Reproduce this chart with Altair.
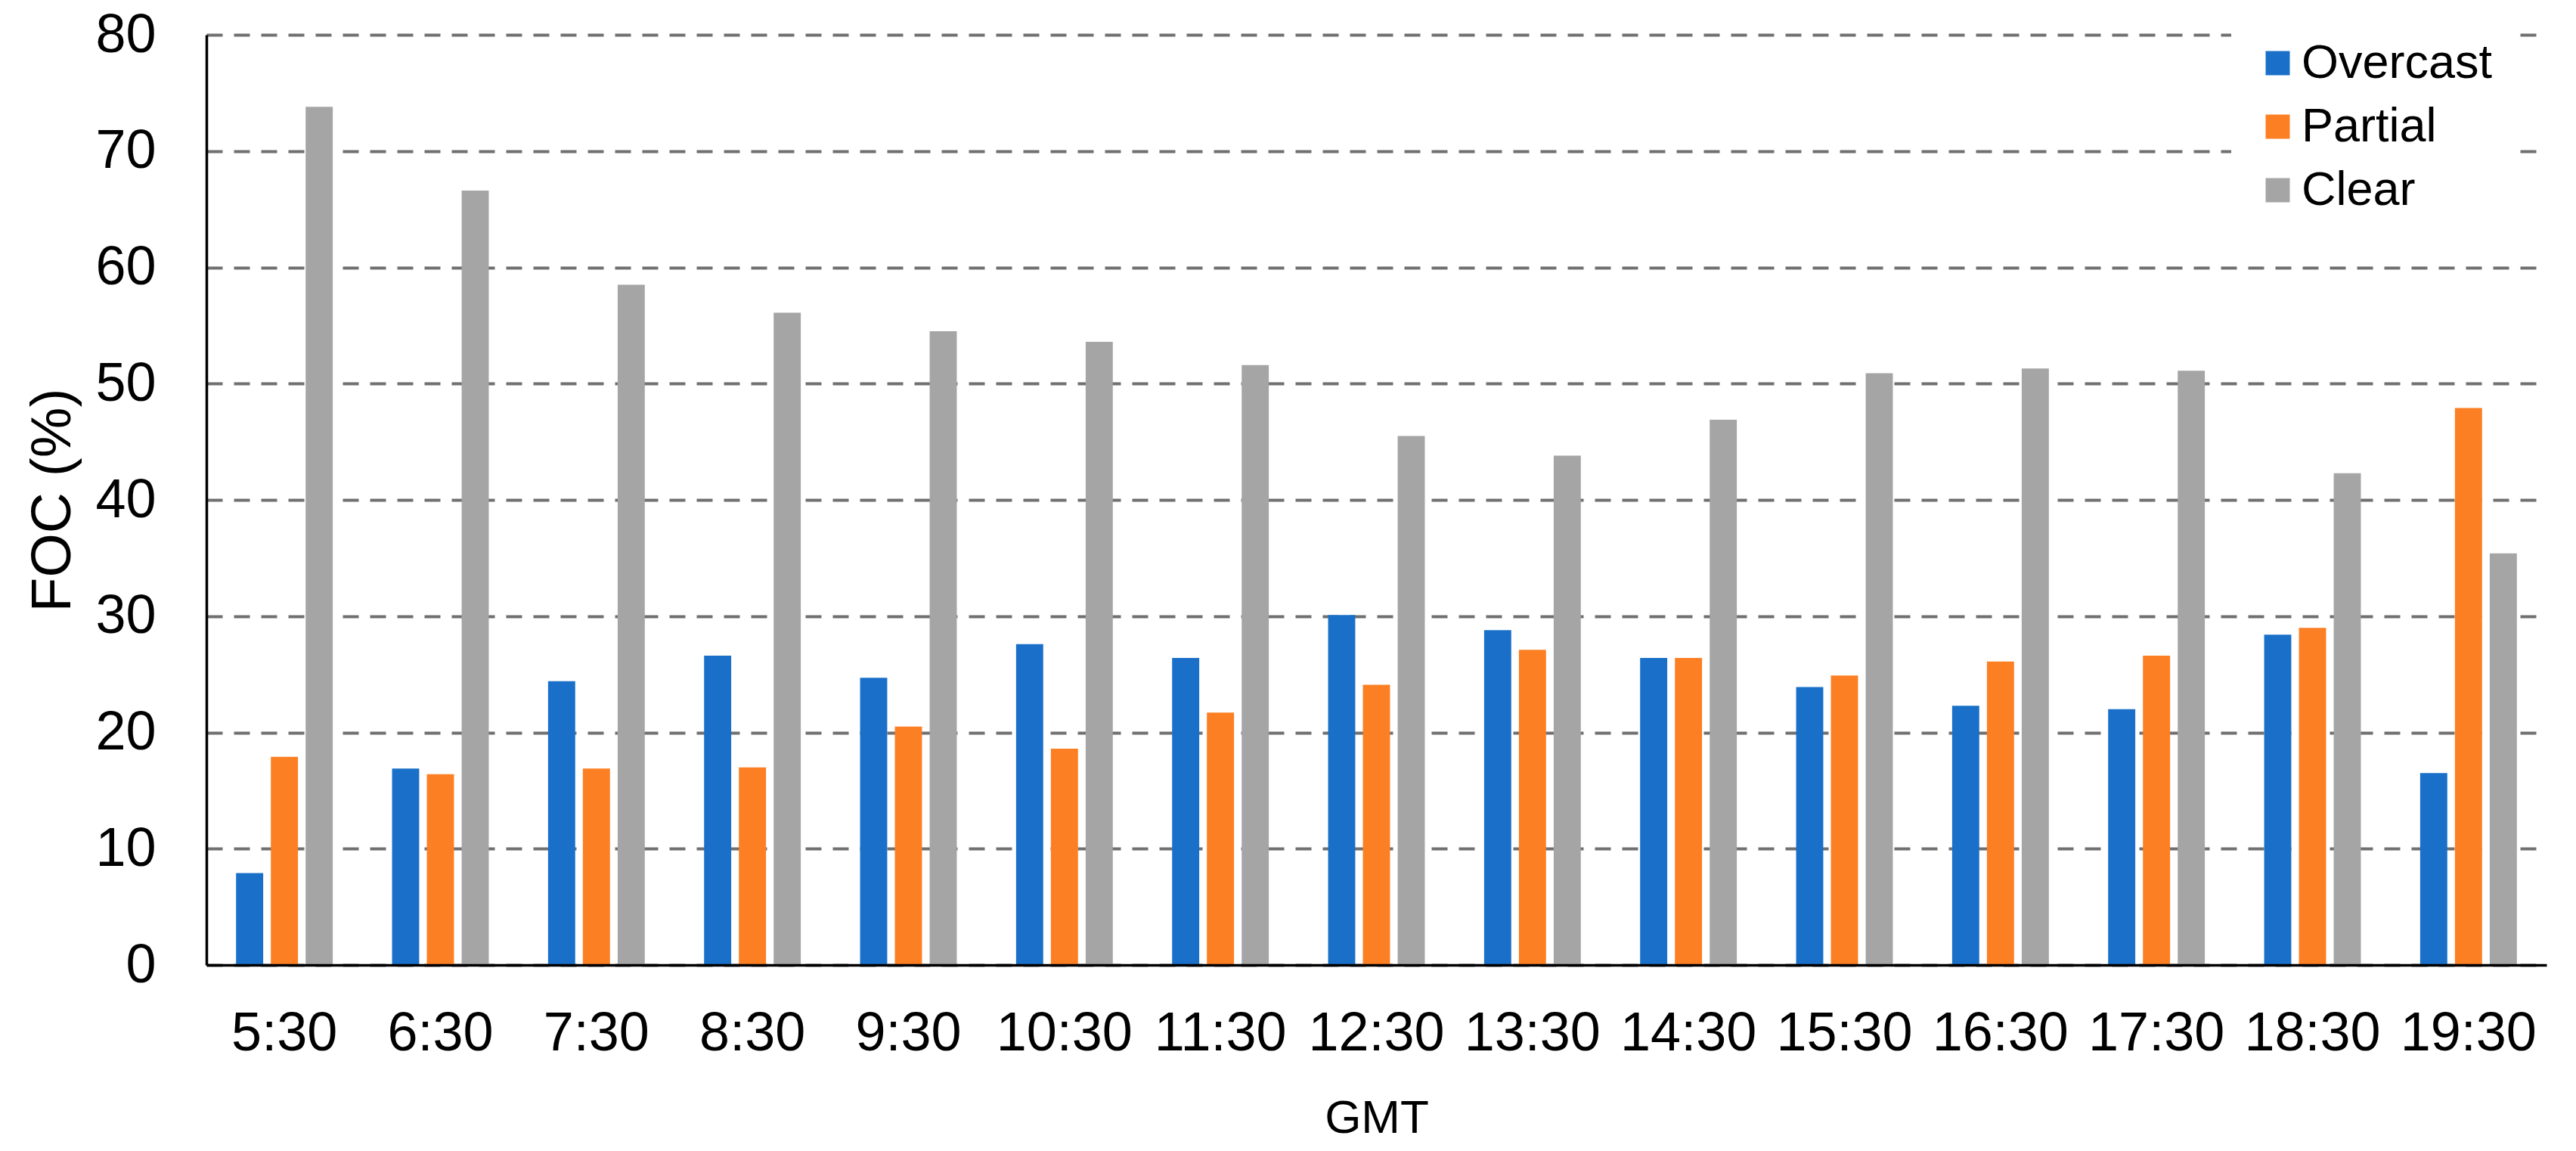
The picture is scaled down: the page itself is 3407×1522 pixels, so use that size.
import altair as alt
import pandas as pd

times = ["5:30", "6:30", "7:30", "8:30", "9:30", "10:30", "11:30", "12:30",
         "13:30", "14:30", "15:30", "16:30", "17:30", "18:30", "19:30"]
series = ["Overcast", "Partial", "Clear"]
colors = ["#1a70c8", "#fd7f23", "#a5a5a5"]

overcast = [7.9, 16.9, 24.4, 26.6, 24.7, 27.6, 26.4, 30.1, 28.8, 26.4, 23.9, 22.3, 22.0, 28.4, 16.5]
partial = [17.9, 16.4, 16.9, 17.0, 20.5, 18.6, 21.7, 24.1, 27.1, 26.4, 24.9, 26.1, 26.6, 29.0, 47.9]
clear = [73.8, 66.6, 58.5, 56.1, 54.5, 53.6, 51.6, 45.5, 43.8, 46.9, 50.9, 51.3, 51.1, 42.3, 35.4]

y_ticks = [0, 10, 20, 30, 40, 50, 60, 70, 80]

rows = []
for i, t in enumerate(times):
    for s, vals in zip(series, [overcast, partial, clear]):
        rows.append({"GMT": t, "Type": s, "FOC": vals[i]})
df = pd.DataFrame(rows)

FONT = "Liberation Sans"

chart = alt.Chart(df).mark_bar().encode(
    x=alt.X(
        "GMT:N", sort=times,
        scale=alt.Scale(paddingInner=0.38, paddingOuter=0.19),
        axis=alt.Axis(
            title="GMT", labelAngle=0, labelFont=FONT, labelFontSize=72,
            labelColor="black", labelPadding=55, labelLimit=400, labelOverlap=False,
            ticks=False, tickSize=0,
            domain=True, domainColor="black", domainWidth=3.5,
            titleFont=FONT, titleFontSize=62, titleFontWeight="normal",
            titleColor="black", titleY=221, titleBaseline="alphabetic",
            grid=False, zindex=1,
        ),
    ),
    xOffset=alt.XOffset(
        "Type:N", sort=series,
        scale=alt.Scale(paddingInner=0.22, paddingOuter=0),
    ),
    y=alt.Y(
        "FOC:Q",
        scale=alt.Scale(domain=[0, 80], nice=False),
        axis=alt.Axis(
            values=y_ticks, format="d", title="FOC (%)",
            labelFont=FONT, labelFontSize=72, labelColor="black", labelPadding=67,
            ticks=False, tickSize=0,
            domain=True, domainColor="black", domainWidth=3.5,
            grid=True, gridColor="#707070", gridDash=[21, 15], gridWidth=4,
            titleFont=FONT, titleFontSize=75, titleFontWeight="normal",
            titleColor="black", titleX=-181, titleBaseline="alphabetic",
            zindex=0,
        ),
    ),
    color=alt.Color(
        "Type:N", sort=series, title=None,
        scale=alt.Scale(domain=series, range=colors),
        legend=alt.Legend(
            orient="none", legendX=2678, legendY=-24, direction="vertical",
            padding=30, fillColor="white", symbolType="square", symbolSize=1024,
            symbolStrokeWidth=0, symbolOpacity=1, labelFont=FONT, labelFontSize=63,
            labelColor="black", rowPadding=20, labelOffset=0, labelLimit=500,
        ),
    ),
).properties(
    width=3095, height=1230,
    autosize=alt.AutoSizeParams(type="none"),
    padding={"left": 265, "top": 38, "right": 30, "bottom": 236},
    background="white",
).configure_view(stroke=None)

chart.save("out.html", embed_options={"renderer": "svg", "actions": False})
